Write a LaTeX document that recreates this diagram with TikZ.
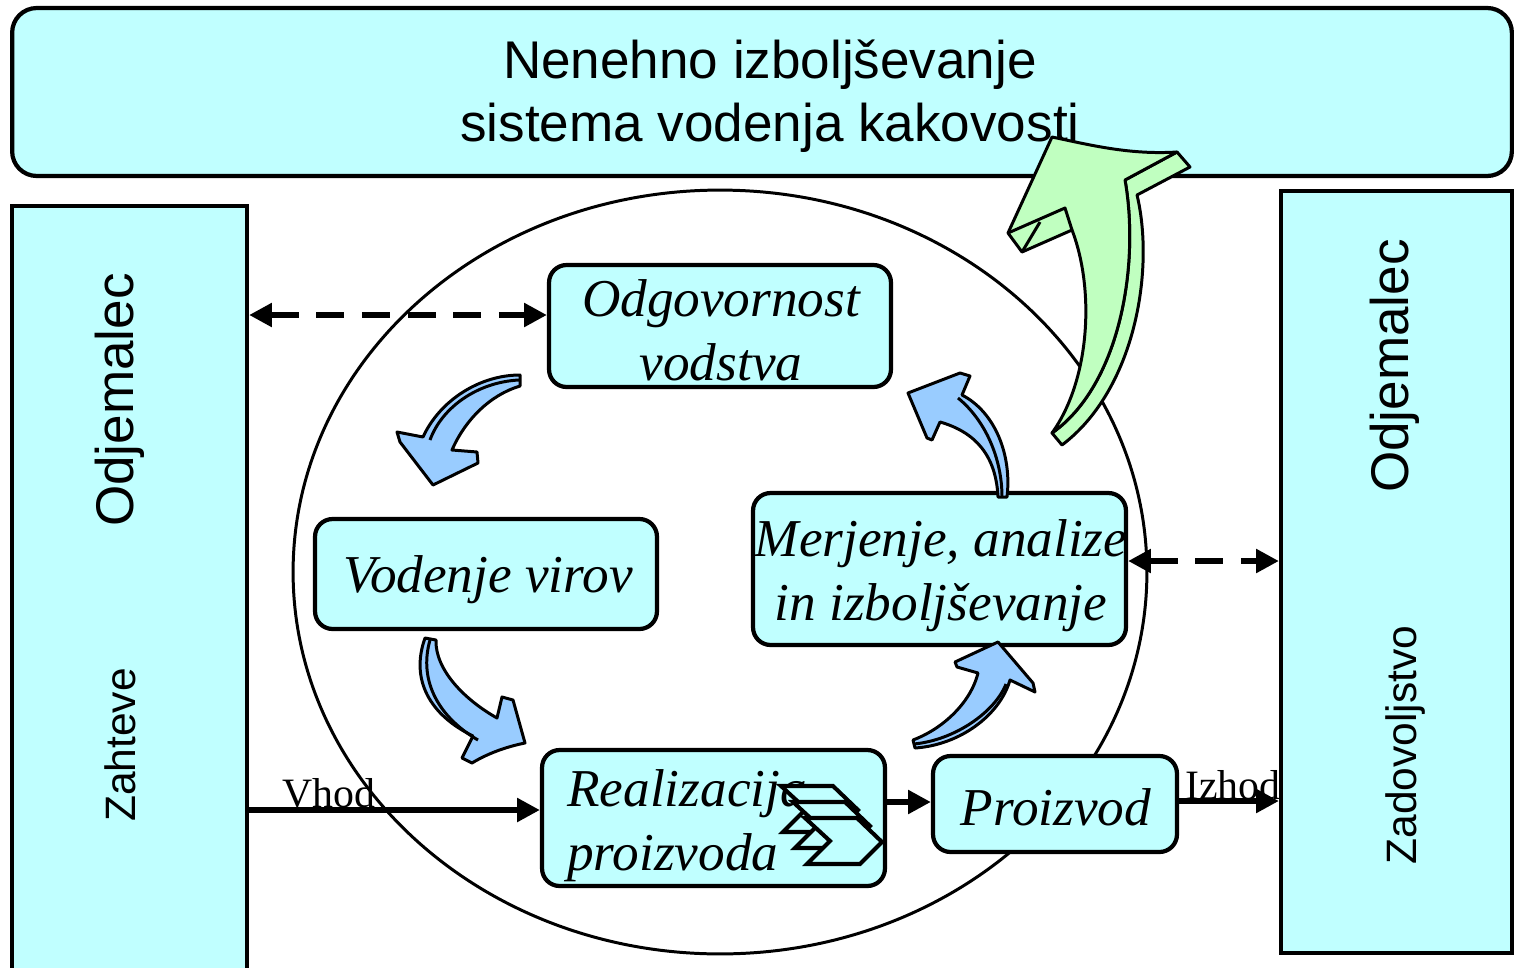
\documentclass[tikz,border=0pt]{standalone}
\usepackage{fontspec}
\setmainfont{Liberation Serif}
\setsansfont{Liberation Sans}
\usetikzlibrary{arrows.meta}
\definecolor{boxcyan}{RGB}{192,255,255}
\definecolor{arrblue}{RGB}{153,204,255}
\definecolor{arrgreen}{RGB}{192,255,192}
\begin{document}
\begin{tikzpicture}[x=0.02cm,y=-0.02cm,
  cbox/.style={draw=black, line width=2.4pt, fill=boxcyan, rounded corners=10pt, inner sep=0pt},
  sbox/.style={draw=black, line width=2.4pt, fill=boxcyan, inner sep=0pt},
  ptxt/.style={font=\itshape\fontsize{30.3}{36.5}\selectfont, align=center, inner sep=0pt},
  stxt/.style={font=\sffamily\fontsize{30.2}{35.7}\selectfont, align=center},
  smtxt/.style={font=\sffamily\fontsize{24.2}{28}\selectfont},
  lbltxt/.style={font=\fontsize{23.8}{28}\selectfont, inner sep=0pt, anchor=base west},
  dasharr/.style={line width=3.4pt, dash pattern=on 16pt off 10pt, {Triangle[length=13pt,width=13pt]}-{Triangle[length=13pt,width=13pt]}},
  solarr/.style={line width=3.6pt, -{Triangle[length=13pt,width=13pt]}},
  curvearr/.style={draw=black, line width=1.7pt, line join=round},
  chev/.style={draw=black, line width=2.3pt, fill=boxcyan, line join=miter},
]
\useasboundingbox (0,0) rectangle (1514,967);

% big ellipse
\draw[line width=1.7pt] (720,572) ellipse [x radius=8.54cm, y radius=7.64cm];

% top box
\node[cbox, rounded corners=14pt, minimum width=30cm, minimum height=3.36cm] (top) at (762,92) {};
\node[stxt] (toptxt) at (770,96) {Nenehno izboljševanje\\sistema vodenja kakovosti};

% side boxes
\node[sbox, minimum width=4.7cm, minimum height=15.4cm] (lbox) at (129.5,591) {};
\node[sbox, minimum width=4.62cm, minimum height=15.24cm] (rbox) at (1396.5,572) {};
\node[stxt, rotate=90] (lodj) at (120,400) {Odjemalec};
\node[smtxt, rotate=90] (zaht) at (120,745) {Zahteve};
\node[stxt, rotate=90] (rodj) at (1395,366) {Odjemalec};
\node[smtxt, rotate=90] (zad) at (1405,745) {Zadovoljstvo};

% process boxes
\node[cbox, minimum width=6.84cm, minimum height=2.44cm] (odg) at (720,326) {};
\node[ptxt] (odgt) at (721,330) {Odgovornost\\vodstva};
\node[cbox, minimum width=6.84cm, minimum height=2.2cm] (vod) at (486,574) {};
\node[ptxt] (vodt) at (488,580) {Vodenje virov};
\node[cbox, minimum width=7.46cm, minimum height=3.04cm] (mer) at (939.5,569) {};
\node[ptxt] (mert) at (941,576) {Merjenje, analize\\in izboljševanje};
\node[cbox, minimum width=6.86cm, minimum height=2.72cm] (real) at (713.5,818) {};
\node[ptxt, anchor=west, align=left] (realt) at (567,826) {Realizacija\\proizvoda};
\node[cbox, minimum width=4.88cm, minimum height=1.92cm] (proiz) at (1055,804) {};
\node[ptxt] (proizt) at (1056,807) {Proizvod};

% chevron icon
\foreach \dx/\dy in {-24/-32,-12/-16,0/0}
  \draw[chev, shift={(\dx,\dy)}] (805,818) -- (857,818) -- (882,842) -- (860,864) -- (807,864) -- (830,841) -- cycle;

% labels
\node[lbltxt] (vhod) at (282,807) {Vhod};
\node[lbltxt] (izhod) at (1185,799) {Izhod};

% connectors
\coordinate (d1) at ([yshift=0.22cm]odg.west);
\draw[dasharr] (lbox.east |- d1) -- (d1);
\coordinate (d2) at ([yshift=0.16cm]mer.east);
\draw[dasharr] (d2) -- (rbox.west |- d2);
\coordinate (v1) at ([yshift=0.16cm]real.west);
\draw[solarr] (lbox.east |- v1) -- (v1);
\coordinate (p1) at ([yshift=0.04cm]proiz.west);
\draw[solarr] (real.east |- p1) -- (p1);
\coordinate (i1) at ([yshift=0.06cm]proiz.east);
\draw[solarr] (i1) -- (rbox.west |- i1);

% blue curved arrows
\draw[curvearr, fill=arrblue] (520,375) .. controls (480,375) and (440,400) .. (423,437) -- (397,432) -- (400,442) -- (433,485) -- (478,463) -- (477,452) -- (452,450) .. controls (465,420) and (490,395) .. (520,386) -- cycle;
\draw[curvearr] (519,380) .. controls (478,382) and (442,407) .. (430,440);

\draw[curvearr, fill=arrblue] (425,638) .. controls (410,680) and (430,715) .. (473,736) -- (462,758) -- (472,763) .. controls (490,752) and (510,746) .. (525,743) -- (513,700) -- (502,697) -- (497,718) .. controls (465,700) and (435,670) .. (436,640) -- cycle;
\draw[curvearr] (430,640) .. controls (418,682) and (440,718) .. (478,740);

\draw[curvearr, fill=arrblue] (998,497) .. controls (996,455) and (975,432) .. (940,422) -- (932,440) -- (927,438) -- (908,393) -- (960,373) -- (970,376) -- (962,395) .. controls (995,412) and (1012,455) .. (1007,497) -- cycle;
\draw[curvearr] (1002,497) .. controls (1002,458) and (985,420) .. (958,398);

\draw[curvearr, fill=arrblue] (913,740) .. controls (940,730) and (970,705) .. (978,673) -- (957,667) -- (955,662) -- (998,642) -- (1033,683) -- (1035,692) -- (1010,680) .. controls (1000,715) and (960,745) .. (915,748) -- cycle;
\draw[curvearr] (914,744) .. controls (955,740) and (995,712) .. (1006,684);

% green arrow
\draw[curvearr, fill=arrgreen] (1125,180) -- (1177,152) -- (1190,167) -- (1137,195) .. controls (1155,270) and (1135,390) .. (1062,445) -- (1052,433) .. controls (1120,385) and (1140,265) .. (1125,180) -- cycle;
\draw[curvearr, fill=arrgreen] (1052,433) .. controls (1090,380) and (1095,290) .. (1072,230) -- (1022,252) -- (1008,233) -- (1052,137) .. controls (1090,145) and (1130,155) .. (1177,152) -- (1125,180) .. controls (1140,265) and (1120,385) .. (1052,433) -- cycle;
\draw[curvearr] (1008,233) -- (1065,208) -- (1072,230);
\draw[curvearr] (1022,252) -- (1040,222);
\end{tikzpicture}
\end{document}
